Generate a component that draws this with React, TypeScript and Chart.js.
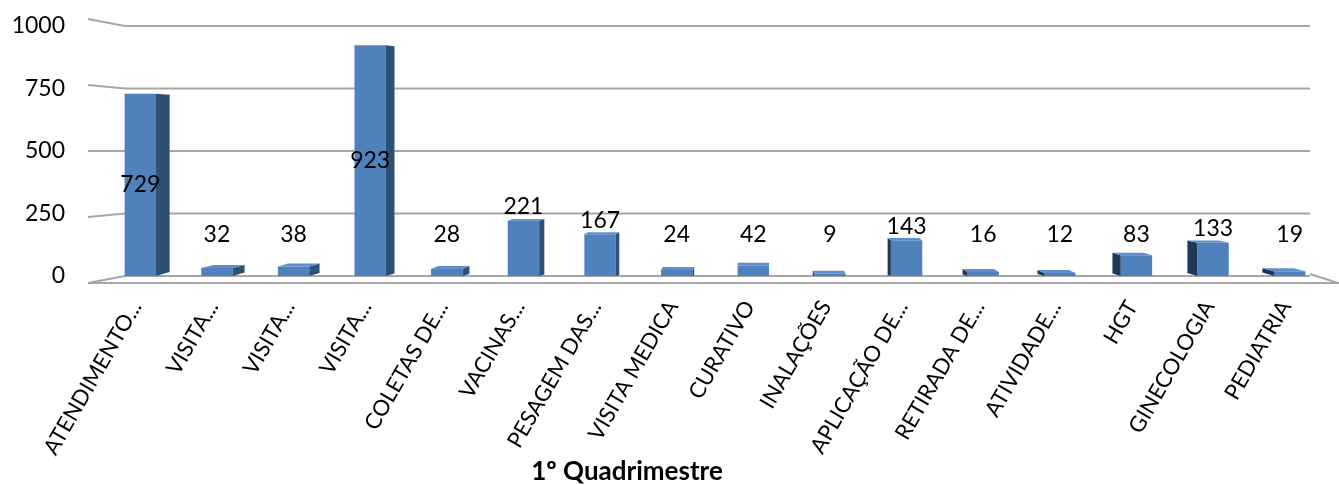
import { useEffect, useRef } from "react";
import { Chart, registerables } from "chart.js";

Chart.register(...registerables);

const categories = [
  "ATENDIMENTO...",
  "VISITA...",
  "VISITA...",
  "VISITA...",
  "COLETAS DE...",
  "VACINAS...",
  "PESAGEM DAS...",
  "VISITA MEDICA",
  "CURATIVO",
  "INALAÇÕES",
  "APLICAÇÃO DE...",
  "RETIRADA DE...",
  "ATIVIDADE...",
  "HGT",
  "GINECOLOGIA",
  "PEDIATRIA",
];
const values = [729, 32, 38, 923, 28, 221, 167, 24, 42, 9, 143, 16, 12, 83, 133, 19];
const yTicks = [0, 250, 500, 750, 1000];
const axisTitle = "1º Quadrimestre";

const FONT = "Lato, 'Open Sans', sans-serif";
const FRONT = "#4F81BD";
const SIDE = "#2E5075";
const SIDE_DARK = "#1F3857";
const TOP = "#5E8FCC";
const GRID = "#A6A6A6";

const decor = {
  id: "decor3d",
  beforeDatasetsDraw(chart: any) {
    const { ctx, chartArea: ca, scales } = chart;
    const y = scales.y;
    ctx.save();
    ctx.strokeStyle = GRID;
    ctx.lineWidth = 2;
    for (const v of yTicks) {
      const yb = y.getPixelForValue(v);
      const yf = yb + 7 - 14 * (v / 1000);
      ctx.beginPath();
      ctx.moveTo(ca.left - 14, yf);
      ctx.lineTo(ca.left + 23, yb);
      ctx.lineTo(ca.right - 18, yb);
      ctx.stroke();
    }
    const y0 = y.getPixelForValue(0);
    ctx.beginPath();
    ctx.moveTo(ca.left - 14, y0 + 7);
    ctx.lineTo(ca.right + 10, y0 + 7);
    ctx.lineTo(ca.right - 18, y0 - 2);
    ctx.stroke();
    ctx.restore();
  },
  afterDatasetsDraw(chart: any) {
    const { ctx, chartArea: ca, scales } = chart;
    const y = scales.y;
    const meta = chart.getDatasetMeta(0);
    const cx = ca.left + (ca.right - ca.left) * 0.5 + 45;
    const eye = y.getPixelForValue(500);
    ctx.save();
    meta.data.forEach((bar: any, i: number) => {
      const w = bar.width;
      const left = bar.x - w / 2;
      const right = bar.x + w / 2;
      const top = bar.y;
      const bottom = bar.base;
      const dx = 0.022 * (cx - bar.x);
      const dyTop = 0.025 * (top - eye);
      const backTop = top - dyTop;
      const backBottom = bottom - 0.3 * Math.abs(dx);
      if (Math.abs(dx) > 0.5) {
        const xe = dx > 0 ? right : left;
        ctx.fillStyle = dx > 0 ? SIDE : SIDE_DARK;
        ctx.beginPath();
        ctx.moveTo(xe, top);
        ctx.lineTo(xe + dx, Math.min(backTop, top + 1));
        ctx.lineTo(xe + dx, backBottom);
        ctx.lineTo(xe, bottom);
        ctx.closePath();
        ctx.fill();
      }
      if (dyTop > 0.5) {
        ctx.fillStyle = TOP;
        ctx.beginPath();
        ctx.moveTo(left, top);
        ctx.lineTo(right, top);
        ctx.lineTo(right + dx, backTop);
        ctx.lineTo(left + dx, backTop);
        ctx.closePath();
        ctx.fill();
      }
      const v = values[i];
      const lv = v > 400 ? v / 2 : Math.max(v + 56, 165);
      ctx.fillStyle = "#000";
      ctx.font = `23px ${FONT}`;
      ctx.textAlign = "center";
      ctx.textBaseline = "middle";
      ctx.fillText(String(v), bar.x, y.getPixelForValue(lv));
    });
    ctx.restore();
  },
  afterDraw(chart: any) {
    const { ctx } = chart;
    ctx.save();
    ctx.fillStyle = "#000";
    ctx.font = `bold 26px ${FONT}`;
    ctx.textAlign = "center";
    ctx.textBaseline = "alphabetic";
    ctx.fillText(axisTitle, 627, 480);
    ctx.restore();
  },
};

export default function App() {
  const ref = useRef<HTMLCanvasElement>(null);
  useEffect(() => {
    document.body.style.margin = "0";
    if (!ref.current) return;
    const chart = new Chart(ref.current, {
      type: "bar",
      data: {
        labels: categories,
        datasets: [
          {
            data: values,
            backgroundColor: FRONT,
            borderWidth: 0,
            barPercentage: 0.41,
            categoryPercentage: 1,
          },
        ],
      },
      options: {
        animation: false,
        responsive: true,
        maintainAspectRatio: false,
        layout: { padding: { top: 26, right: 11, left: 0, bottom: 0 } },
        plugins: {
          legend: { display: false },
          tooltip: { enabled: false },
        },
        scales: {
          x: {
            grid: { display: false, drawTicks: false },
            border: { display: false },
            ticks: {
              minRotation: 60,
              maxRotation: 60,
              autoSkip: false,
              padding: 20,
              labelOffset: -4,
              color: "#000",
              font: { family: FONT, size: 22 },
            },
            afterFit: (s: any) => {
              s.height = 209;
              s.paddingLeft = 0;
              s.paddingRight = 0;
            },
          },
          y: {
            min: 0,
            max: 1000,
            grid: { display: false, drawTicks: false },
            border: { display: false },
            ticks: {
              stepSize: 250,
              padding: 37,
              color: "#000",
              font: { family: FONT, size: 23 },
              callback: (v: any) => String(v),
            },
            afterFit: (s: any) => {
              s.width = 102;
              s.paddingTop = 0;
              s.paddingBottom = 0;
            },
          },
        },
      },
      plugins: [decor],
    });
    return () => chart.destroy();
  }, []);
  return (
    <div style={{ width: 1339, height: 485, position: "relative" }}>
      <canvas ref={ref} />
    </div>
  );
}
